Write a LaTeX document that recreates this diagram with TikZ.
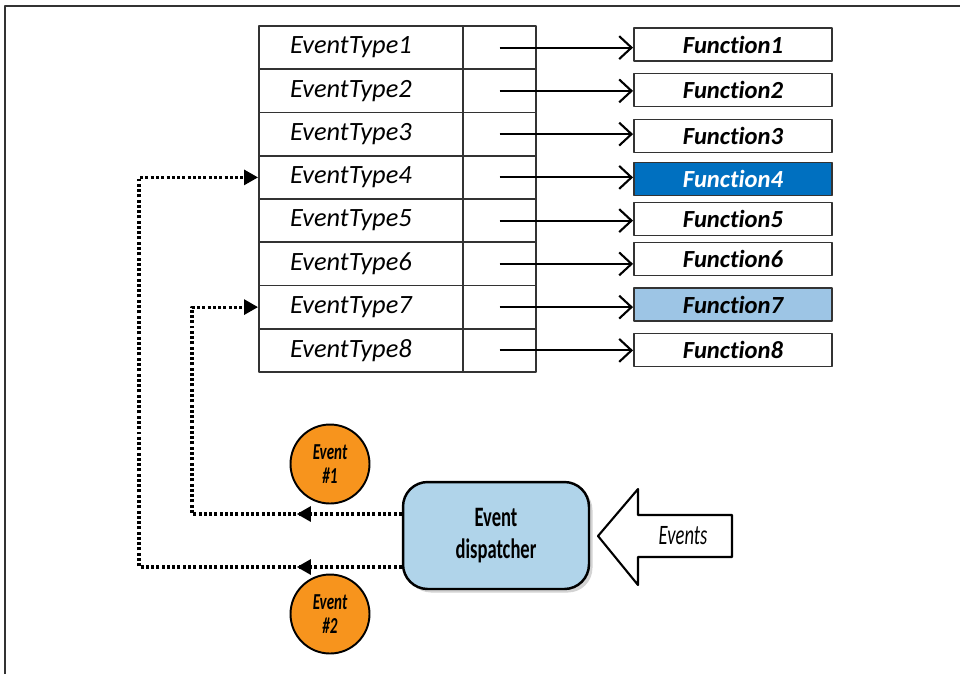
\documentclass[tikz,border=0pt]{standalone}
\usepackage{fontspec}
\setmainfont{Carlito}[RawFeature={-liga,-clig,-calt}]
\newfontfamily\narrowfont[FakeStretch=0.66,RawFeature={-liga,-clig,-calt}]{Carlito}
\usetikzlibrary{arrows.meta,shadows,decorations.markings}
\definecolor{dkblue}{RGB}{0,112,192}
\definecolor{ltblue}{RGB}{157,197,229}
\definecolor{dspblue}{RGB}{176,212,234}
\definecolor{evorange}{RGB}{247,148,29}
\definecolor{rulegray}{RGB}{51,51,51}

\begin{document}
\begin{tikzpicture}[x=0.02cm,y=-0.02cm,line join=round,>={Straight Barb[length=7pt,width=13pt]},thick]
	\tikzset{cell/.style={draw=rulegray,line width=1.1pt,minimum height=0.865cm,inner sep=0pt},
		typecell/.style={cell,text width=2.84cm,inner xsep=0.62cm,align=left,font=\fontsize{15}{17}\selectfont\itshape},
		ptrcell/.style={cell,minimum width=1.46cm},
		fnbox/.style={draw=rulegray,line width=1.1pt,fill=white,minimum width=3.96cm,minimum height=0.66cm,inner sep=0pt,font=\fontsize{14}{16}\selectfont\bfseries\itshape},
		fnhot/.style={fnbox,fill=dkblue,text=white},
		fnwarm/.style={fnbox,fill=ltblue},
		evcircle/.style={circle,draw,line width=1.1pt,fill=evorange,minimum size=1.58cm,inner sep=0pt,align=center,font=\narrowfont\fontsize{13}{14}\selectfont\bfseries\itshape},
		dotline/.style={line width=1.8pt,dash pattern=on 1.7pt off 1.3pt,-{Triangle[length=8pt,width=8.5pt]},
			postaction={decorate},decoration={markings,mark=at position 2.1cm with {\arrow{Triangle[length=8pt,width=8.5pt]}}}}}
	\useasboundingbox (0,0) rectangle (960,674);
	\draw[rulegray,line width=0.8pt] (5,674) -- (5,6) -- (960,6);
	\foreach \i/\y/\fy/\st in {1/47.6/44.5/fnbox,2/90.9/90/fnbox,3/134.1/136/fnbox,4/177.4/179/fnhot,
		5/220.6/219/fnbox,6/263.9/259/fnbox,7/307.1/304.5/fnwarm,8/350.4/350/fnbox}
	{
		\node[typecell] (type\i) at (361,\y) {EventType\i};
		\node[ptrcell] (ptr\i) at (499.5,\y) {};
		\node[\st] (fn\i) at (733,\fy) {Function\i};
		\draw[->,line width=1.2pt] (ptr\i.center) -- (ptr\i.center -| fn\i.west);
	}
	\node[draw,line width=1.4pt,fill=dspblue,rounded corners=14pt,minimum width=3.72cm,minimum height=2.14cm,
		drop shadow={opacity=0.35,shadow xshift=2pt,shadow yshift=-2pt},align=center,
		font=\narrowfont\fontsize{16}{18}\selectfont\bfseries] (disp) at (496,535.5) {Event\\dispatcher};
	\node[evcircle] (ev1) at (330,464) {Event\\\#1};
	\node[evcircle] (ev2) at (330,614) {Event\\\#2};
	\coordinate (bend1) at (192,514);
	\coordinate (bend2) at (139,567);
	\draw[dotline] (bend1 -| disp.west) -- (bend1) |- (type7.west);
	\draw[dotline] (bend2 -| disp.west) -- (bend2) |- (type4.west);
	\draw[line width=1.2pt,fill=white] (732,515) -- (638,515) -- (638,489) -- (598,536) -- (638,585) -- (638,557) -- (732,557) -- cycle;
	\node[font=\narrowfont\fontsize{16}{18}\selectfont\itshape] (events) at (683,536) {Events};
\end{tikzpicture}
\end{document}
